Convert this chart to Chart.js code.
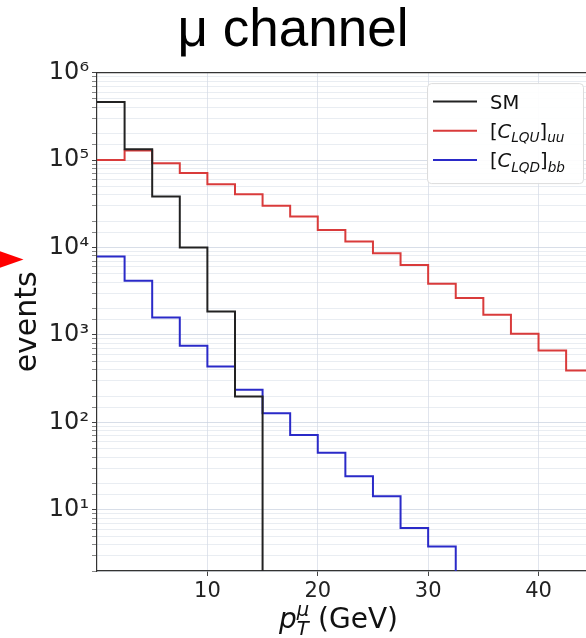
<!DOCTYPE html>
<html>
<head>
<meta charset="utf-8">
<script src="https://cdn.jsdelivr.net/npm/chart.js@4.4.1/dist/chart.umd.min.js"></script>
<style>
  html, body { margin: 0; padding: 0; background: #fff; }
</style>
</head>
<body>
<canvas id="muChart" width="586" height="638"></canvas>
<script>
// pT bins (GeV), 2.5 GeV wide
const binEdges = [0, 2.5, 5, 7.5, 10, 12.5, 15, 17.5, 20, 22.5, 25, 27.5, 30, 32.5, 35, 37.5, 40, 42.5, 45];
// events per bin (0 = empty bin)
const smEvents   = [4.6e5, 1.33e5, 3.83e4, 1.0e4, 1.86e3, 198, 0, 0, 0, 0, 0, 0, 0, 0, 0, 0, 0, 0];
const clquEvents = [1.0e5, 1.29e5, 9.2e4, 7.1e4, 5.3e4, 4.07e4, 3.0e4, 2.26e4, 1.59e4, 1.17e4, 8.6e3, 6.3e3, 3.85e3, 2.64e3, 1.70e3, 1.03e3, 665, 393];
const clqdEvents = [7.9e3, 4.16e3, 1.58e3, 753, 437, 237, 127, 72, 45, 24.2, 14.3, 6.2, 3.8, 0, 0, 0, 0, 0];

const seriesLabels = ['SM', '[$C$_{LQU}]_{uu}', '[$C$_{LQD}]_{bb}'];
const seriesColors = ['#222222', '#d93b3b', '#2a2ac8'];
const xTickValues = [10, 20, 30, 40];
const chartTitle = 'μ channel';
const xTitle = '$p$^{μ}_{T} (GeV)';
const yTitle = 'events';

const FONT = 'DejaVu Sans';
const SUP = {'0':'⁰','1':'¹','2':'²','3':'³','4':'⁴','5':'⁵','6':'⁶','7':'⁷','8':'⁸','9':'⁹'};

// histogram counts -> step points (value holds until the next edge)
function toSteps(edges, counts) {
  const pts = [];
  for (let i = 0; i < counts.length; i++) {
    if (counts[i] > 0) {
      pts.push({x: edges[i], y: counts[i]});
    } else {
      pts.push({x: edges[i], y: 1e-3}); // drop to the floor, clipped away
      return pts;
    }
  }
  pts.push({x: edges[counts.length], y: counts[counts.length - 1]});
  return pts;
}

function isDecade(v) {
  const l = Math.log10(v);
  return Math.abs(l - Math.round(l)) < 1e-9;
}

// tiny mathtext: $italic$, _{sub}, ^{sup}
function richPieces(ctx, str, size) {
  const re = /\$([^$]*)\$|_\{([^}]*)\}|\^\{([^}]*)\}|([^$_^]+)/g;
  const pieces = [];
  let x = 0, m, supStart = null, supW = 0;
  while ((m = re.exec(str))) {
    let text, fs = size, italic = false, dy = 0, kind = '';
    if (m[1] !== undefined) { text = m[1]; italic = true; }
    else if (m[2] !== undefined) { text = m[2]; italic = true; fs = size * 0.7; dy = size * 0.24; kind = 'sub'; }
    else if (m[3] !== undefined) { text = m[3]; italic = true; fs = size * 0.7; dy = -size * 0.42; kind = 'sup'; }
    else text = m[4];
    const font = (italic ? 'italic ' : '') + fs + 'px "' + FONT + '"';
    ctx.font = font;
    const w = ctx.measureText(text).width;
    let px = x;
    if (kind === 'sub' && supStart !== null) { px = supStart; x = supStart + Math.max(w, supW); }
    else x += w;
    if (kind === 'sup') { supStart = px; supW = w; } else supStart = null;
    pieces.push({text, font, x: px, dy});
  }
  return {pieces, width: x};
}

function drawRich(ctx, str, x, y, size, color) {
  const r = richPieces(ctx, str, size);
  ctx.fillStyle = color;
  ctx.textBaseline = 'alphabetic';
  ctx.textAlign = 'left';
  r.pieces.forEach(p => {
    ctx.font = p.font;
    ctx.fillText(p.text, x + p.x, y + p.dy);
  });
  return r.width;
}

const extras = {
  id: 'extras',
  afterDraw(chart) {
    const ctx = chart.ctx;
    const a = chart.chartArea;
    ctx.save();

    // top spine
    ctx.strokeStyle = '#333';
    ctx.lineWidth = 1.2;
    ctx.beginPath();
    ctx.moveTo(a.left, a.top);
    ctx.lineTo(a.right, a.top);
    ctx.stroke();

    // x axis title with sub/superscript
    const size = 28;
    const w = richPieces(ctx, xTitle, size).width;
    drawRich(ctx, xTitle, (a.left + a.right) / 2 - w / 2 - 3, 628, size, '#111');

    // legend box
    const bx = a.right - 159, by = a.top + 10.5, bw = 156, bh = 100;
    ctx.fillStyle = 'rgba(255,255,255,0.92)';
    ctx.strokeStyle = '#dcdcdc';
    ctx.lineWidth = 1;
    ctx.beginPath();
    ctx.roundRect(bx + 0.5, by + 0.5, bw, bh, 4);
    ctx.fill();
    ctx.stroke();
    chart.data.datasets.forEach((ds, i) => {
      const ry = by + 18.5 + i * 29.2;
      ctx.strokeStyle = ds.borderColor;
      ctx.lineWidth = 2;
      ctx.beginPath();
      ctx.moveTo(bx + 6, ry);
      ctx.lineTo(bx + 50, ry);
      ctx.stroke();
      drawRich(ctx, ds.label, bx + 63, ry + 7, 19.5, '#111');
    });

    // red marker arrow on the left
    ctx.fillStyle = '#ff0000';
    ctx.beginPath();
    ctx.moveTo(-12, 247);
    ctx.lineTo(23.5, 259.5);
    ctx.lineTo(-12, 272);
    ctx.closePath();
    ctx.fill();

    ctx.restore();
  }
};

const seriesCounts = [smEvents, clquEvents, clqdEvents];

new Chart(document.getElementById('muChart'), {
  type: 'line',
  data: {
    datasets: seriesCounts.map((counts, i) => ({
      label: seriesLabels[i],
      data: toSteps(binEdges, counts),
      borderColor: seriesColors[i],
      borderWidth: 2,
      stepped: true,
      pointRadius: 0,
      fill: false,
      tension: 0
    }))
  },
  options: {
    responsive: false,
    animation: false,
    devicePixelRatio: 1,
    layout: { padding: 0 },
    plugins: {
      legend: { display: false },
      tooltip: { enabled: false },
      title: {
        display: true,
        text: chartTitle,
        color: '#000',
        font: { family: 'Liberation Sans', size: 53, weight: 'normal', lineHeight: 1.2 },
        padding: { top: 0, bottom: 9 }
      }
    },
    scales: {
      x: {
        type: 'linear',
        min: 0,
        max: 44.3,
        afterBuildTicks: s => { s.ticks = xTickValues.map(v => ({value: v})); },
        afterFit: s => { s.height = 67; },
        ticks: { color: '#222', font: { family: FONT, size: 21 }, padding: 3, maxRotation: 0 },
        grid: { color: 'rgba(205,212,225,0.6)', lineWidth: 1, tickLength: 5, tickColor: '#444' },
        border: { color: '#333', width: 1.2 }
      },
      y: {
        type: 'logarithmic',
        min: 2,
        max: 1e6,
        afterFit: s => { s.width = 97; },
        ticks: {
          autoSkip: false,
          color: '#222',
          font: { family: FONT, size: 24 },
          padding: 3,
          callback: v => isDecade(v) ? '10' + String(Math.round(Math.log10(v))).split('').map(c => SUP[c]).join('') : ''
        },
        grid: {
          color: c => isDecade(c.tick.value) ? 'rgba(200,208,222,0.7)' : 'rgba(212,219,230,0.5)',
          lineWidth: 1,
          tickLength: 5,
          tickColor: c => isDecade(c.tick.value) ? '#444' : '#888'
        },
        border: { color: '#333', width: 1.2 },
        title: {
          display: true,
          text: yTitle,
          color: '#111',
          font: { family: FONT, size: 30, lineHeight: 1 },
          padding: { top: 13, bottom: 0 }
        }
      }
    }
  },
  plugins: [extras]
});
</script>
</body>
</html>
